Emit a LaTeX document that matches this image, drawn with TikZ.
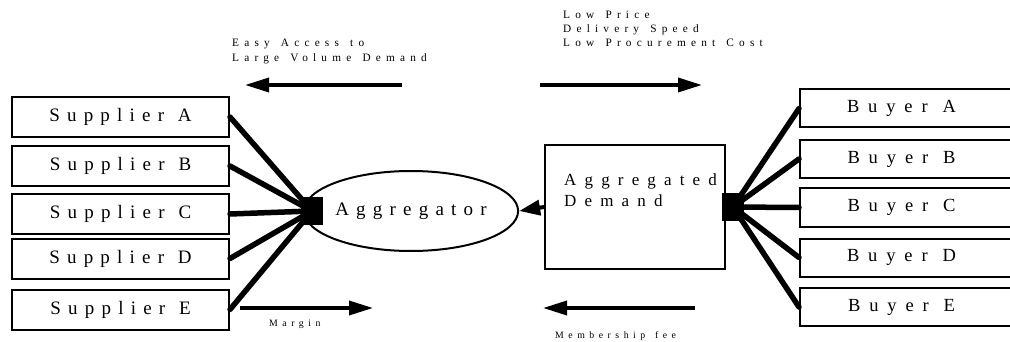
\documentclass[tikz,border=0pt]{standalone}
\usepackage{fontspec}
\setmainfont{Liberation Serif}
\newfontfamily\bigsp[LetterSpace=38,WordSpace=1.15]{Liberation Serif}
\newfontfamily\midsp[LetterSpace=48,WordSpace=1.1]{Liberation Serif}
\newfontfamily\smallsp[LetterSpace=46,WordSpace=1.4]{Liberation Serif}
\usetikzlibrary{arrows.meta,shapes.geometric}
\tikzset{
  sbox/.style={draw, line width=2pt, rectangle, minimum width=217pt, minimum height=40pt, inner sep=0pt,
    font=\bigsp\fontsize{19}{22}\selectfont},
  bbox/.style={draw, line width=2pt, rectangle, minimum width=215pt, minimum height=38pt, inner sep=0pt,
    font=\midsp\fontsize{18.5}{22}\selectfont},
  hub/.style={fill=black, rectangle, minimum width=22pt, minimum height=27pt, inner sep=0pt},
  conn/.style={line width=5.5pt, line cap=round},
  arr/.style={line width=3.5pt, -{Triangle[length=24pt,width=14pt]}},
  lbl/.style={anchor=base west, inner sep=0pt, font=\smallsp\fontsize{11.3}{13}\selectfont},
  lbls/.style={anchor=base west, inner sep=0pt, font=\smallsp\fontsize{9.8}{12}\selectfont},
}
\begin{document}
\begin{tikzpicture}[x=1pt,y=-1pt]
\useasboundingbox (0,0) rectangle (1010,342);
\clip (0,0) rectangle (1010,342);
\fill[white] (0,0) rectangle (1010,342);
% suppliers
\node[sbox] (sA) at (120.5,117) {Supplier A};
\node[sbox] (sB) at (120.5,166) {Supplier B};
\node[sbox] (sC) at (120.5,214) {Supplier C};
\node[sbox] (sD) at (120.5,258.5) {Supplier D};
\node[sbox] (sE) at (120.5,309.5) {Supplier E};
% buyers
\node[bbox] (bA) at (907.5,108.5) {Buyer A\hspace*{12pt}};
\node[bbox] (bB) at (907.5,159) {Buyer B\hspace*{12pt}};
\node[bbox] (bC) at (907.5,207.5) {Buyer C\hspace*{12pt}};
\node[bbox] (bD) at (907.5,257.5) {Buyer D\hspace*{12pt}};
\node[bbox] (bE) at (907.5,307) {Buyer E\hspace*{12pt}};
% aggregator
\node[draw, ellipse, line width=2pt, minimum width=178pt, minimum height=80pt, inner sep=0pt,
  font=\bigsp\fontsize{19}{22}\selectfont] (agg) at (411,211) {Aggregator};
% aggregated demand
\node[draw, line width=2pt, rectangle, minimum width=180pt, minimum height=124pt, inner sep=0pt] (ad) at (635,207) {};
\node[anchor=north west, inner sep=0pt, align=left, font=\midsp\fontsize{17}{21}\selectfont] (adt) at (564,174) {Aggregated\\Demand};
% hubs
\node[hub] (lh) at (312,211) {};
\node[hub] (rh) at (733,207) {};
% connectors
\foreach \s in {sA,sB,sC,sD,sE} \draw[conn] (lh.center) -- (\s.east);
\foreach \b in {bA,bB,bC,bD,bE} \draw[conn] (rh.center) -- (\b.west);
\draw[line width=4pt, -{Triangle[length=21pt,width=15pt]}] (ad.west) -- (agg.east);
% flow arrows
\coordinate (t1s) at (402,85); \coordinate (t1e) at (245,85);
\coordinate (t2s) at (540,85); \coordinate (t2e) at (702,85);
\coordinate (b1s) at (240,308); \coordinate (b1e) at (373,308);
\coordinate (b2s) at (695,308); \coordinate (b2e) at (543,308);
\draw[arr] (t1s) -- (t1e);
\draw[arr] (t2s) -- (t2e);
\draw[arr] (b1s) -- (b1e);
\draw[arr] (b2s) -- (b2e);
% labels
\node[lbl] (l1) at (232,47) {Easy Access to};
\node[lbl] (l2) at (232,62) {Large Volume Demand};
\node[lbl] (l3) at (563,19) {Low Price};
\node[lbl] (l4) at (563,33) {Delivery Speed};
\node[lbl] (l5) at (563,47) {Low Procurement Cost};
\node[lbls] (l6) at (269,326) {Margin};
\node[lbls] (l7) at (555,338) {Membership fee};
\end{tikzpicture}
\end{document}
